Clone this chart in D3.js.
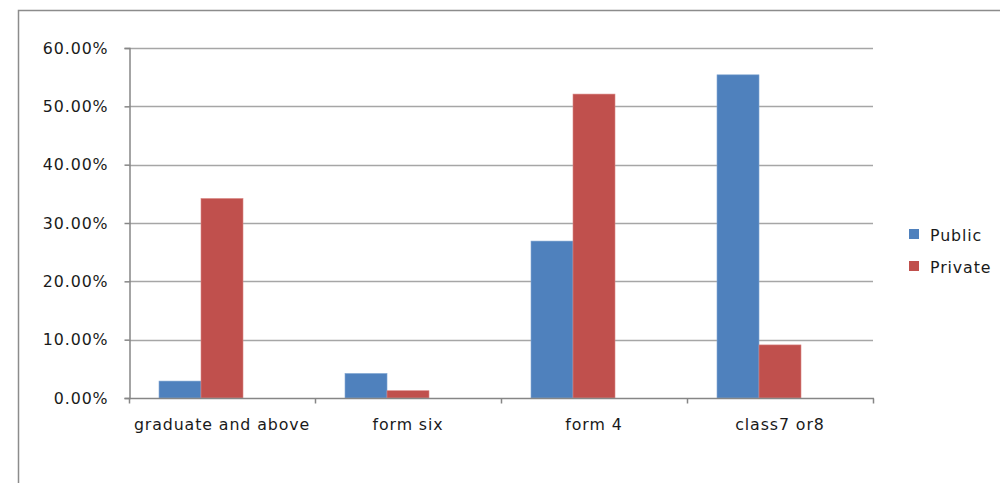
<!DOCTYPE html>
<html>
<head>
<meta charset="utf-8">
<script src="https://cdn.jsdelivr.net/npm/d3@7"></script>
<style>
  html, body { margin: 0; padding: 0; background: #fff; }
  svg { display: block; }
  text { font-family: "DejaVu Sans", sans-serif; fill: #1a1a1a; letter-spacing: 0.9px; }
</style>
</head>
<body>
<svg id="chart" width="1000" height="483"></svg>
<script>
// Education level by school type (share of respondents)
const categories = ["graduate and above", "form six", "form 4", "class7 or8"];
const seriesNames = ["Public", "Private"];
const publicValues = [0.029, 0.042, 0.269, 0.554];
const privateValues = [0.342, 0.0125, 0.521, 0.091];
const yTicks = [0, 0.1, 0.2, 0.3, 0.4, 0.5, 0.6];
const colors = ["#4f81bd", "#c0504d"];

const seriesValues = [publicValues, privateValues];
const fontSize = 15.8;

const svg = d3.select("#chart");
const plot = { left: 129, right: 873, top: 48, bottom: 398 };

// outer chart frame (runs past the right and bottom edges)
svg.append("rect")
  .attr("x", 18.5).attr("y", 10.5)
  .attr("width", 1100).attr("height", 600)
  .attr("fill", "none").attr("stroke", "#8c8c8c").attr("stroke-width", 1.5);

const x0 = d3.scaleBand().domain(categories).range([plot.left, plot.right]).paddingInner(0).paddingOuter(0);
const y = d3.scaleLinear().domain([0, 0.6]).range([plot.bottom, plot.top]);

// gridlines
svg.append("g")
  .selectAll("line")
  .data(yTicks.filter(t => t > 0))
  .join("line")
  .attr("x1", plot.left).attr("x2", plot.right)
  .attr("y1", d => Math.round(y(d)) + 0.5).attr("y2", d => Math.round(y(d)) + 0.5)
  .attr("stroke", "#a6a6a6").attr("stroke-width", 1.5);

// bars: three slots per category, the two series fill the first two
const slotW = x0.bandwidth() / 4.43;
const groupOffset = (x0.bandwidth() - 3 * slotW) / 2;
categories.forEach((c, ci) => {
  seriesValues.forEach((vals, si) => {
    const v = vals[ci];
    svg.append("rect")
      .attr("x", x0(c) + groupOffset + si * slotW)
      .attr("y", y(v))
      .attr("width", slotW)
      .attr("height", y(0) - y(v))
      .attr("fill", colors[si])
      .attr("stroke", si === 0 ? "#7ea3d1" : "#d98583")
      .attr("stroke-width", 0.6);
  });
});

// y axis
const yAxis = d3.axisLeft(y).tickValues(yTicks).tickSize(5).tickPadding(16)
  .tickFormat(d => (d * 100).toFixed(2) + "%");
const gy = svg.append("g").attr("transform", `translate(${plot.left + 0.5},0)`).call(yAxis);
gy.select(".domain").attr("stroke", "#868686").attr("stroke-width", 1.5);
gy.selectAll(".tick line").attr("stroke", "#868686").attr("stroke-width", 1.5);
gy.selectAll(".tick text").attr("font-size", fontSize).attr("fill", "#1a1a1a")
  .attr("font-family", "DejaVu Sans");

// x axis: ticks at category boundaries
const gx = svg.append("g").attr("transform", `translate(0,${plot.bottom + 0.5})`);
gx.append("line").attr("x1", plot.left).attr("x2", plot.right + 1)
  .attr("stroke", "#868686").attr("stroke-width", 1.5);
const bounds = categories.map(c => x0(c)).concat([plot.right]);
gx.selectAll("line.tk").data(bounds).join("line").attr("class", "tk")
  .attr("x1", d => d + 0.5).attr("x2", d => d + 0.5).attr("y1", 0).attr("y2", 5)
  .attr("stroke", "#868686").attr("stroke-width", 1.5);
gx.selectAll("text").data(categories).join("text")
  .attr("x", d => x0(d) + x0.bandwidth() / 2)
  .attr("y", 31)
  .attr("text-anchor", "middle")
  .attr("font-size", fontSize)
  .text(d => d);

// legend
const legend = svg.append("g");
seriesNames.forEach((name, i) => {
  const ly = 229 + i * 32;
  legend.append("rect").attr("x", 909).attr("y", ly).attr("width", 10).attr("height", 10).attr("fill", colors[i]);
  legend.append("text").attr("x", 930).attr("y", ly + 12).attr("font-size", fontSize).text(name);
});
</script>
</body>
</html>
